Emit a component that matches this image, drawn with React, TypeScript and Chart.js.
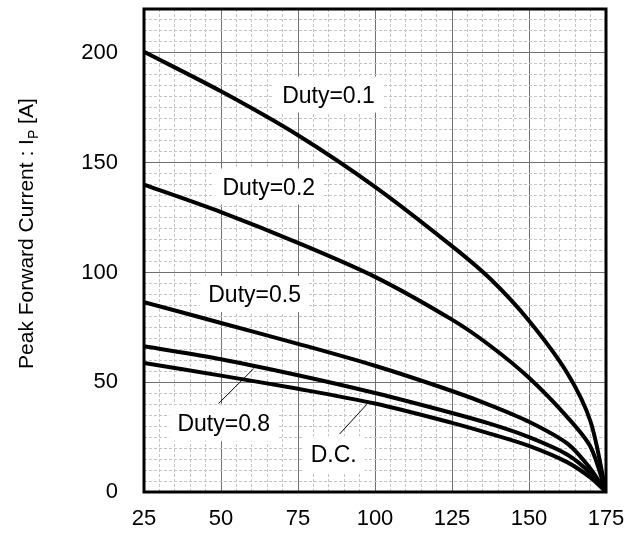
import React, { useEffect, useRef } from "react";
import { Chart, registerables } from "chart.js";

Chart.register(...registerables);

// Case temperature (x) samples
const xTemps = [25, 50, 75, 100, 125, 137.5, 150, 162.5, 170, 175];
// Peak forward current series (A)
const duty01 = [200.5, 182.5, 162.5, 139, 112, 97, 78, 54, 32, 0];
const duty02 = [140, 127.5, 113.5, 98, 78.5, 66.5, 52, 34, 20.5, 0];
const duty05 = [86.5, 77, 67.5, 57.5, 46, 39.5, 32, 22, 10.5, 0];
const duty08 = [66.4, 60.5, 53.2, 45.1, 36, 31, 25, 17, 8.5, 0];
const dutyDC = [58.8, 53, 47, 40.3, 31.5, 26.5, 21, 13.5, 6.5, 0];

// Annotation labels (data coordinates, baseline centre)
const labelTexts = ["Duty=0.1", "Duty=0.2", "Duty=0.5", "Duty=0.8", "D.C."];
const labelX = [84.9, 65.5, 60.9, 50.9, 86.6];
const labelY = [177.4, 135.5, 86.5, 27.7, 13.5];
// Leader lines
const leaderFromX = [49.2, 88.5];
const leaderFromY = [40.3, 26.4];
const leaderToX = [60.6, 97.4];
const leaderToY = [56.2, 40];

const xTickLabels = [25, 50, 75, 100, 125, 150, 175];
const yTickLabels = [0, 50, 100, 150, 200];

const FONT = "'Liberation Sans', Arial, Helvetica, sans-serif";

const annotationPlugin = {
  id: "annotations",
  beforeDatasetsDraw(chart: any) {
    const { ctx, scales } = chart;
    const xs = scales.x;
    const ys = scales.y;
    ctx.save();
    ctx.font = `23px ${FONT}`;
    ctx.textAlign = "center";
    ctx.textBaseline = "alphabetic";
    labelTexts.forEach((t, i) => {
      const px = xs.getPixelForValue(labelX[i]);
      const py = ys.getPixelForValue(labelY[i]);
      const w = ctx.measureText(t).width;
      ctx.fillStyle = "#ffffff";
      ctx.fillRect(px - w / 2 - 8, py - 26, w + 16, 36);
      ctx.fillStyle = "#000000";
      ctx.fillText(t, px, py);
    });
    ctx.strokeStyle = "#000000";
    ctx.lineWidth = 1;
    leaderFromX.forEach((_, i) => {
      ctx.beginPath();
      ctx.moveTo(xs.getPixelForValue(leaderFromX[i]), ys.getPixelForValue(leaderFromY[i]));
      ctx.lineTo(xs.getPixelForValue(leaderToX[i]), ys.getPixelForValue(leaderToY[i]));
      ctx.stroke();
    });
    ctx.restore();
  },
  afterDatasetsDraw(chart: any) {
    const { ctx, chartArea } = chart;
    ctx.save();
    ctx.strokeStyle = "#000000";
    ctx.lineWidth = 3;
    ctx.strokeRect(chartArea.left, chartArea.top, chartArea.right - chartArea.left, chartArea.bottom - chartArea.top);
    ctx.restore();
  },
  afterDraw(chart: any) {
    const { ctx, chartArea } = chart;
    ctx.save();
    const cy = chartArea.top + (chartArea.bottom - chartArea.top) * 0.465;
    const cx = 33;
    ctx.translate(cx, cy);
    ctx.rotate(-Math.PI / 2);
    ctx.fillStyle = "#000000";
    ctx.textBaseline = "alphabetic";
    ctx.textAlign = "left";
    const mainFont = `21px ${FONT}`;
    const subFont = `14px ${FONT}`;
    const parts = [
      { t: "Peak Forward Current : I", f: mainFont, dy: 0 },
      { t: "P", f: subFont, dy: 5 },
      { t: " [A]", f: mainFont, dy: 0 },
    ];
    let total = 0;
    parts.forEach((p) => {
      ctx.font = p.f;
      total += ctx.measureText(p.t).width;
    });
    let x = -total / 2;
    parts.forEach((p) => {
      ctx.font = p.f;
      ctx.fillText(p.t, x, p.dy);
      x += ctx.measureText(p.t).width;
    });
    ctx.restore();
  },
};

function makeDataset(label: string, values: number[]) {
  return {
    label,
    data: xTemps.map((x, i) => ({ x, y: values[i] })),
    borderColor: "#000000",
    borderWidth: 4,
    pointRadius: 0,
    fill: false,
    tension: 0.3,
    borderJoinStyle: "round" as const,
  };
}

export default function App() {
  const canvasRef = useRef<HTMLCanvasElement | null>(null);

  useEffect(() => {
    if (!canvasRef.current) return;
    const chart = new Chart(canvasRef.current, {
      type: "line",
      data: {
        datasets: [
          makeDataset("Duty=0.1", duty01),
          makeDataset("Duty=0.2", duty02),
          makeDataset("Duty=0.5", duty05),
          makeDataset("Duty=0.8", duty08),
          makeDataset("D.C.", dutyDC),
        ],
      },
      options: {
        responsive: false,
        animation: false,
        layout: { padding: { top: 9, right: 30, left: 0, bottom: 0 } },
        plugins: {
          legend: { display: false },
          tooltip: { enabled: false },
          title: { display: false },
        },
        scales: {
          x: {
            type: "linear",
            min: 25,
            max: 175,
            afterFit: (scale: any) => {
              scale.height = 43;
              scale.paddingLeft = 0;
              scale.paddingRight = 0;
            },
            ticks: {
              stepSize: 5,
              autoSkip: false,
              maxRotation: 0,
              padding: 14,
              color: "#000000",
              font: { family: FONT, size: 22 },
              callback: (v: any) => (xTickLabels.includes(Number(v)) ? String(v) : ""),
            },
            grid: {
              drawTicks: false,
              color: (ctx: any) => (ctx.tick && ctx.tick.value % 25 === 0 ? "#707070" : "#c4c4c4"),
              lineWidth: 1,
            },
            border: {
              display: false,
              dash: (ctx: any) => (ctx.tick && ctx.tick.value % 25 === 0 ? [] : [3, 2]),
            },
          },
          y: {
            type: "linear",
            min: 0,
            max: 220,
            afterFit: (scale: any) => {
              scale.width = 144;
              scale.paddingTop = 0;
              scale.paddingBottom = 0;
            },
            ticks: {
              stepSize: 5,
              autoSkip: false,
              padding: 26,
              color: "#000000",
              font: { family: FONT, size: 22 },
              callback: (v: any) => (yTickLabels.includes(Number(v)) ? String(v) : ""),
            },
            grid: {
              drawTicks: false,
              color: (ctx: any) => (ctx.tick && ctx.tick.value % 50 === 0 ? "#707070" : "#c4c4c4"),
              lineWidth: 1,
            },
            border: {
              display: false,
              dash: (ctx: any) => (ctx.tick && ctx.tick.value % 50 === 0 ? [] : [3, 2]),
            },
          },
        },
      },
      plugins: [annotationPlugin],
    } as any);
    return () => chart.destroy();
  }, []);

  return (
    <div style={{ position: "fixed", left: 0, top: 0, width: 636, height: 535, background: "#fff" }}>
      <canvas ref={canvasRef} width={636} height={535} style={{ display: "block" }} />
    </div>
  );
}
